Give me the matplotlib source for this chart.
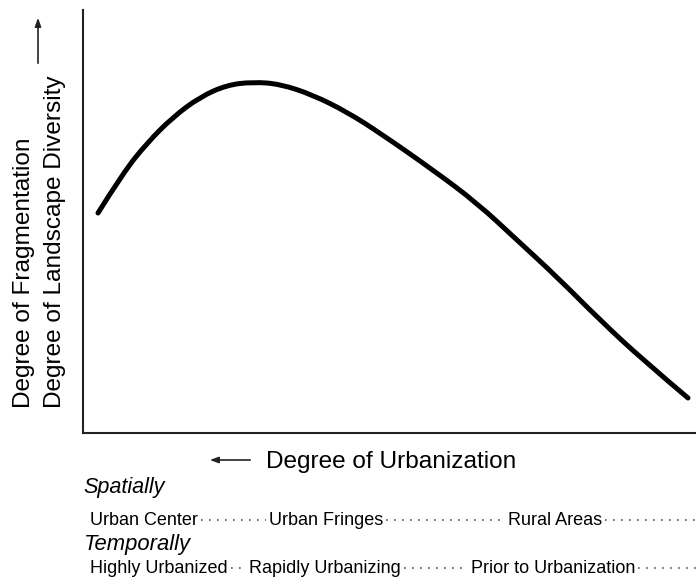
import matplotlib
matplotlib.use("Agg")
import matplotlib.pyplot as plt
from matplotlib.lines import Line2D
from matplotlib.path import Path
from matplotlib.patches import PathPatch, FancyArrowPatch

plt.rcParams['font.family'] = ['Liberation Sans', 'DejaVu Sans']

# ---- data (curve, arbitrary units) ----
urbanization = [15, 40, 64, 90, 117, 144, 170, 197, 230, 264, 297, 350, 394, 434, 474, 517, 560, 605]
diversity = [220, 260, 290, 316, 336, 348, 351, 349, 338, 321, 300, 263, 230, 193, 156, 113, 73, 35]

x_label = "Degree of Urbanization"
y_label_1 = "Degree of Fragmentation"
y_label_2 = "Degree of Landscape Diversity"
spatial_title = "Spatially"
spatial_labels = ["Urban Center", "Urban Fringes", "Rural Areas"]
temporal_title = "Temporally"
temporal_labels = ["Highly Urbanized", "Rapidly Urbanizing", "Prior to Urbanization"]

# ---- layout ----
W, H = 696, 578
fig = plt.figure(figsize=(W / 100, H / 100), dpi=100)
AX_L, AX_T, AX_R, AX_B = 83, 10, 696, 433
ax = fig.add_axes([AX_L / W, 1 - AX_B / H, (AX_R - AX_L) / W, (AX_B - AX_T) / H])
ax.set_xlim(0, AX_R - AX_L)
ax.set_ylim(0, AX_B - AX_T)

# smooth curve: quadratic Bezier path using the read points as control points
pts = list(zip(urbanization, diversity))
verts = [pts[0]]
codes = [Path.MOVETO]
for i in range(1, len(pts) - 1):
    nxt = pts[i + 1] if i + 1 < len(pts) - 1 else pts[-1]
    end = ((pts[i][0] + nxt[0]) / 2, (pts[i][1] + nxt[1]) / 2) if i + 1 < len(pts) - 1 else pts[-1]
    verts += [pts[i], end]
    codes += [Path.CURVE3, Path.CURVE3]
ax.add_patch(PathPatch(Path(verts, codes), facecolor='none', edgecolor='black', lw=3.6,
                       capstyle='round', joinstyle='round', clip_on=False))

for s in ['top', 'right']:
    ax.spines[s].set_visible(False)
for s in ['left', 'bottom']:
    ax.spines[s].set_linewidth(1.5)
    ax.spines[s].set_color('#222222')
ax.set_xticks([])
ax.set_yticks([])


def fx(px):
    return px / W


def fy(py):
    return 1 - py / H


# y labels
fig.text(fx(24), fy(408), y_label_1, rotation=90, ha='center', va='bottom', fontsize=17.6)
fig.text(fx(55), fy(408), y_label_2, rotation=90, ha='center', va='bottom', fontsize=17.6)
fig.add_artist(FancyArrowPatch((fx(38), fy(66)), (fx(38), fy(15)),
               transform=fig.transFigure, arrowstyle='-|>,head_length=5,head_width=1.8',
               lw=1.2, color='#222222'))

# x label
fig.text(fx(266), fy(468), x_label, ha='left', va='baseline', fontsize=17.6)
fig.add_artist(FancyArrowPatch((fx(253), fy(460)), (fx(207), fy(460)),
               transform=fig.transFigure, arrowstyle='-|>,head_length=5,head_width=1.8',
               lw=1.2, color='#222222'))

fig.text(fx(83), fy(493), spatial_title, ha='left', va='baseline', fontsize=15.6, style='italic')
fig.text(fx(83), fy(550), temporal_title, ha='left', va='baseline', fontsize=15.8, style='italic')

spatial_x = [90, 269, 508]
temporal_x = [90, 249, 471]
rows = [(spatial_labels, spatial_x, 525), (temporal_labels, temporal_x, 573)]
row_texts = []
for labels, xs, base in rows:
    ts = [fig.text(fx(x), fy(base), lab, ha='left', va='baseline', fontsize=13) for lab, x in zip(labels, xs)]
    row_texts.append((ts, base))

fig.canvas.draw()
r = fig.canvas.get_renderer()
for ts, base in row_texts:
    ends = [t.get_window_extent(r) for t in ts]
    for i, bb in enumerate(ends):
        x0 = bb.x1 + 3
        x1 = ends[i + 1].x0 - 3 if i + 1 < len(ends) else W
        yy = fy(base - 5)
        fig.add_artist(Line2D([x0 / W, x1 / W], [yy, yy], transform=fig.transFigure,
                              color='#555555', lw=1.2, linestyle=(0, (1, 3.8))))

fig.savefig('out.png', dpi=100)
